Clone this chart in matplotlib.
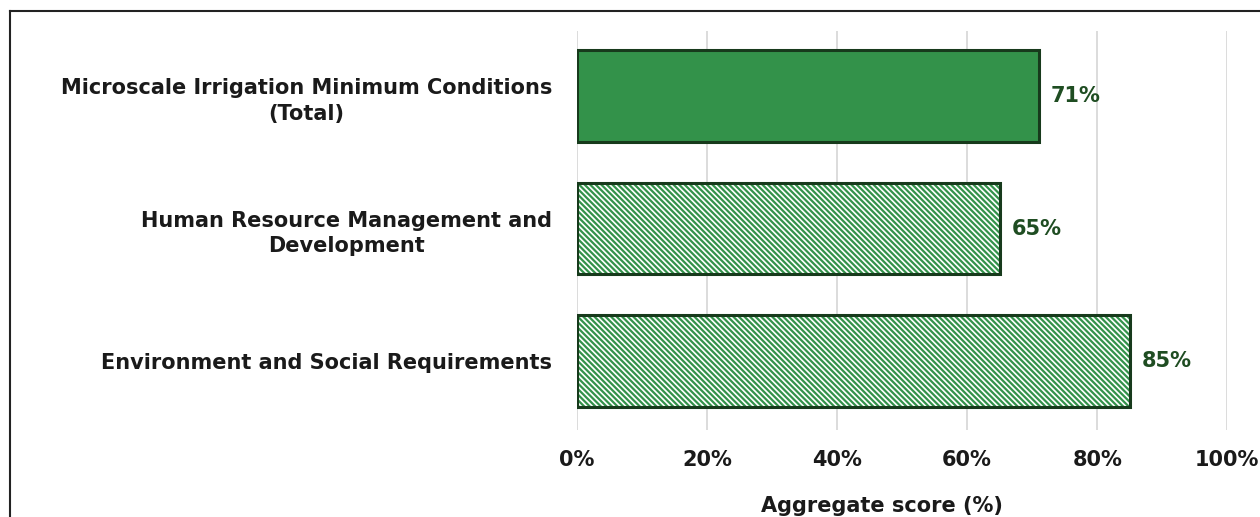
import matplotlib.pyplot as plt
from matplotlib.lines import Line2D

categories = ['Microscale Irrigation Minimum Conditions\n(Total)',
              'Human Resource Management and\nDevelopment',
              'Environment and Social Requirements']
scores = [71, 65, 85]
hatched = [False, True, True]
xticks = [0, 20, 40, 60, 80, 100]

green = '#33924a'
dark = '#173a1c'
label_green = '#1f4d22'

plt.rcParams['font.family'] = ['DejaVu Sans']
plt.rcParams['hatch.linewidth'] = 1.6

fig = plt.figure(figsize=(12.6, 5.17), dpi=100)
ax = fig.add_axes([0.458, 0.168, 0.516, 0.772])

ypos = list(range(len(categories)))
for y, v, h in zip(ypos, scores, hatched):
    if h:
        ax.barh(y, v, height=0.69, facecolor='white', edgecolor=green,
                hatch='\\\\\\\\\\\\', linewidth=0, zorder=3)
        ax.barh(y, v, height=0.69, facecolor='none', edgecolor=dark,
                linewidth=2.2, zorder=4)
    else:
        ax.barh(y, v, height=0.69, facecolor=green, edgecolor=dark,
                linewidth=2.2, zorder=3)
    ax.text(v + 1.8, y, f'{v}%', va='center', ha='left', fontsize=15,
            fontweight='bold', color=label_green)

ax.set_ylim(2.52, -0.49)
ax.set_xlim(0, 100)
ax.set_yticks(ypos)
ax.set_yticklabels(categories, fontsize=15, fontweight='bold', color='#1a1a1a',
                   ha='right', linespacing=1.35)
ax.set_xticks(xticks)
ax.set_xticklabels([f'{t}%' for t in xticks], fontsize=15, fontweight='bold',
                   color='#1a1a1a')
ax.tick_params(axis='y', length=0, pad=18)
ax.tick_params(axis='x', length=0, pad=14)
for lab in ax.get_yticklabels():
    lab.set_multialignment('center')
ax.xaxis.grid(True, color='#d9d9d9', linewidth=1.3, zorder=0)
ax.set_axisbelow(True)
for s in ax.spines.values():
    s.set_visible(False)
ax.text(0.469, -0.19, 'Aggregate score (%)', transform=ax.transAxes,
        fontsize=15, fontweight='bold', color='#1a1a1a', ha='center', va='center')

# frame lines (left and top)
fig.add_artist(Line2D([9.5 / 1260, 9.5 / 1260], [0, 1 - 11 / 517],
                      transform=fig.transFigure, color='#222222', linewidth=1.5))
fig.add_artist(Line2D([9.5 / 1260, 1], [1 - 11 / 517, 1 - 11 / 517],
                      transform=fig.transFigure, color='#222222', linewidth=1.5))

fig.savefig('out.png', dpi=100)
